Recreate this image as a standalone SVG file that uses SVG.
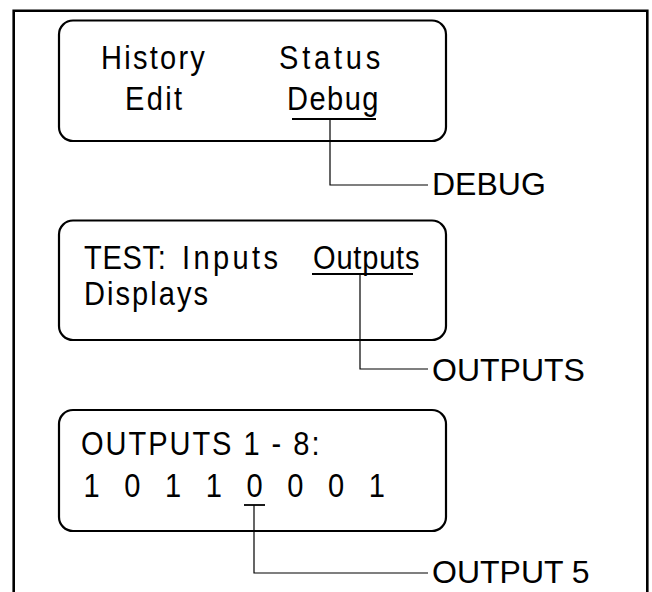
<svg xmlns="http://www.w3.org/2000/svg" width="652" height="592" viewBox="0 0 652 592">
<style>
.frame{fill:none;stroke:#000;stroke-width:2.6}
.box{fill:#fff;stroke:#000;stroke-width:2.2}
.lcd{font-family:"Liberation Sans",Arial,sans-serif;font-size:33px;fill:#000}
.lbl{font-family:"Liberation Sans",Arial,sans-serif;font-size:32px;fill:#000}
.ul{stroke:#000;stroke-width:1.8;fill:none}
.con{stroke:#000;stroke-width:1.2;fill:none}
</style>
<rect x="0" y="0" width="652" height="592" fill="#fff"/>
<path class="frame" d="M13.7,600 V10.7 H647.3 V600"/>
<g id="display-menu">
<rect class="box" x="59" y="20.5" width="387" height="120.5" rx="14"/>
<text class="lcd" transform="translate(101,69) scale(0.88,1)" textLength="118" lengthAdjust="spacing">History</text>
<text class="lcd" transform="translate(279,69) scale(0.88,1)" textLength="115" lengthAdjust="spacing">Status</text>
<text class="lcd" transform="translate(125,110) scale(0.88,1)" textLength="65" lengthAdjust="spacing">Edit</text>
<text class="lcd" transform="translate(287,110) scale(0.88,1)" textLength="104" lengthAdjust="spacing">Debug</text>
</g>
<g id="display-test">
<rect class="box" x="59" y="220.5" width="387" height="119.5" rx="14"/>
<text class="lcd" transform="translate(84,269) scale(0.88,1)" textLength="93" lengthAdjust="spacing">TEST:</text>
<text class="lcd" transform="translate(182,269) scale(0.88,1)" textLength="109" lengthAdjust="spacing">Inputs</text>
<text class="lcd" transform="translate(313,269) scale(0.88,1)" textLength="121" lengthAdjust="spacing">Outputs</text>
<text class="lcd" transform="translate(84,305) scale(0.88,1)" textLength="141" lengthAdjust="spacing">Displays</text>
</g>
<g id="display-outputs">
<rect class="box" x="59" y="410" width="387" height="121" rx="14"/>
<text class="lcd" transform="translate(81,455) scale(0.88,1)" textLength="271" lengthAdjust="spacing">OUTPUTS 1 - 8:</text>
<g text-anchor="middle">
<text class="lcd" transform="translate(91.5,497) scale(0.88,1)">1</text>
<text class="lcd" transform="translate(132.3,497) scale(0.88,1)">0</text>
<text class="lcd" transform="translate(173,497) scale(0.88,1)">1</text>
<text class="lcd" transform="translate(213.8,497) scale(0.88,1)">1</text>
<text class="lcd" transform="translate(254.5,497) scale(0.88,1)">0</text>
<text class="lcd" transform="translate(295.3,497) scale(0.88,1)">0</text>
<text class="lcd" transform="translate(336,497) scale(0.88,1)">0</text>
<text class="lcd" transform="translate(376.8,497) scale(0.88,1)">1</text>
</g>
</g>
<g id="label-debug"><text class="lbl" x="432" y="195">DEBUG</text></g>
<g id="label-outputs"><text class="lbl" x="432" y="381">OUTPUTS</text></g>
<g id="label-output5"><text class="lbl" x="432" y="583">OUTPUT 5</text></g>
<g id="connectors">
<line class="ul" x1="292" y1="119" x2="376" y2="119"/>
<path class="con" d="M330,119 V185 H428"/>
<line class="ul" x1="312" y1="274" x2="413" y2="274"/>
<path class="con" d="M360,274 V369 H428"/>
<line class="ul" x1="244" y1="505" x2="265" y2="505"/>
<path class="con" d="M254,505 V573 H428"/>
</g>
</svg>
